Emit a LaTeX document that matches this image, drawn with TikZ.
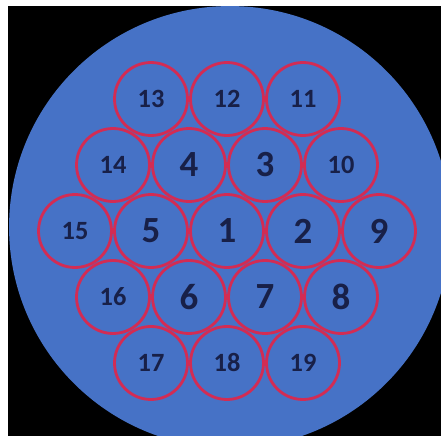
\documentclass[tikz,border=0pt]{standalone}
\usepackage{fontspec}
\setmainfont{Carlito}
\usepackage{tikz}
\definecolor{fibreblue}{RGB}{70,114,198}
\definecolor{corered}{RGB}{210,44,84}
\definecolor{labelnavy}{RGB}{24,32,72}
\tikzstyle{bigcore} = [circle, minimum size=1.46cm, inner sep=0pt,
           draw=corered, line width=1.6pt, text=labelnavy,
           font=\fontsize{21}{25}\selectfont\bfseries]
\tikzstyle{smallcore} = [bigcore, font=\fontsize{15}{18}\selectfont\bfseries]

\begin{document}
\begin{tikzpicture}[x=0.02cm, y=-0.02cm]
\useasboundingbox (0,0) rectangle (441,436);
\fill [black] (8,6) rectangle (441,436);
\begin{scope}
\clip (8,6) rectangle (441,436);
\fill [fibreblue] (230,227) circle (4.42cm);
\end{scope}
% inner ring
\node (core1) [bigcore] at (227,231) {1};
\node (core2) [bigcore] at (303,231) {2};
\node (core3) [bigcore] at (265,165) {3};
\node (core4) [bigcore] at (189,165) {4};
\node (core5) [bigcore] at (151,231) {5};
\node (core6) [bigcore] at (189,297) {6};
\node (core7) [bigcore] at (265,297) {7};
% outer ring
\node (core8) [bigcore] at (341,297) {8};
\node (core9) [bigcore] at (379,231) {9};
\node (core10) [smallcore] at (341,165) {10};
\node (core11) [smallcore] at (303,99) {11};
\node (core12) [smallcore] at (227,99) {12};
\node (core13) [smallcore] at (151,99) {13};
\node (core14) [smallcore] at (113,165) {14};
\node (core15) [smallcore] at (75,231) {15};
\node (core16) [smallcore] at (113,297) {16};
\node (core17) [smallcore] at (151,363) {17};
\node (core18) [smallcore] at (227,363) {18};
\node (core19) [smallcore] at (303,363) {19};
\end{tikzpicture}
\end{document}
